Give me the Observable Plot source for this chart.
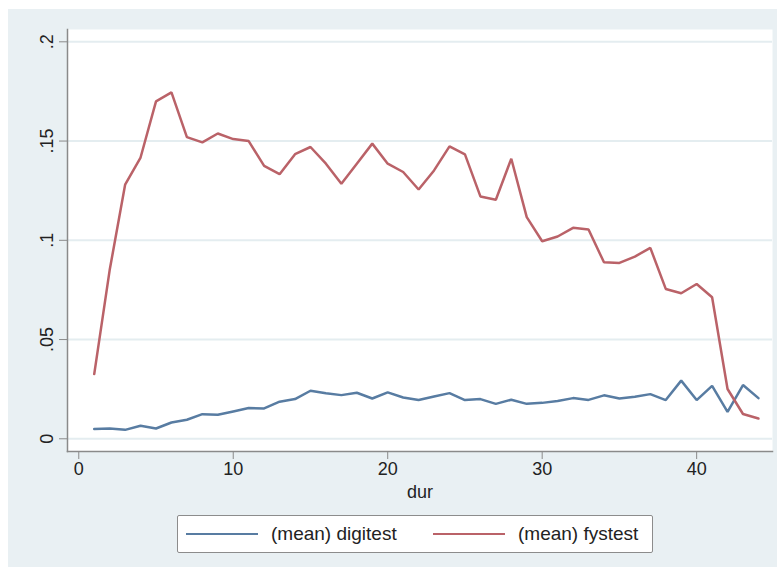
<!DOCTYPE html>
<html>
<head>
<meta charset="utf-8">
<script src="https://cdn.jsdelivr.net/npm/d3@7"></script>
<script src="https://cdn.jsdelivr.net/npm/@observablehq/plot@0.6"></script>
<style>
  html, body { margin: 0; padding: 0; background: #ffffff; }
  body { width: 777px; height: 571px; overflow: hidden; font-family: "Liberation Sans", Arial, sans-serif; }
  #wrap { position: relative; margin-left: 8px; margin-top: 9px; width: 769px; height: 558px; background: #e9f0f3; }
  #chart svg { display: block; }
  #legend { position: absolute; left: 169px; top: 506px; width: 474px; height: 36px; background: #ffffff;
            border: 1px solid #8c8c8c; border-radius: 2px; font-size: 19px; color: #222; }
  .item { position: absolute; top: 0; height: 36px; display: flex; align-items: center; }
  .swatch { width: 72px; height: 0; border-top: 2px solid; margin-right: 13px; }
</style>
</head>
<body>
<div id="wrap">
  <div id="chart"></div>
  <div id="legend"></div>
</div>
<script>
const dur = d3.range(1, 45);
const digitest = [0.0049, 0.0052, 0.0045, 0.0066, 0.0052, 0.0082, 0.0096, 0.0124, 0.0121, 0.0138,
  0.0155, 0.0153, 0.0187, 0.0200, 0.0242, 0.0229, 0.0220, 0.0232, 0.0203, 0.0234,
  0.0208, 0.0195, 0.0213, 0.0230, 0.0195, 0.0200, 0.0176, 0.0197, 0.0176, 0.0181,
  0.0190, 0.0205, 0.0196, 0.0219, 0.0203, 0.0212, 0.0225, 0.0195, 0.0293, 0.0195,
  0.0267, 0.0136, 0.0271, 0.0205];
const fystest = [0.0326, 0.0850, 0.1280, 0.1417, 0.1700, 0.1745, 0.1520, 0.1493, 0.1538, 0.1510,
  0.1500, 0.1375, 0.1333, 0.1434, 0.1470, 0.1386, 0.1285, 0.1386, 0.1487, 0.1386,
  0.1344, 0.1256, 0.1352, 0.1473, 0.1433, 0.1221, 0.1204, 0.1411, 0.1117, 0.0995,
  0.1019, 0.1063, 0.1054, 0.0889, 0.0886, 0.0918, 0.0962, 0.0755, 0.0733, 0.0780,
  0.0713, 0.0251, 0.0125, 0.0102];
const seriesNames = ["(mean) digitest", "(mean) fystest"];
const seriesColors = ["#587ca2", "#ba6268"];
const xTicks = [0, 10, 20, 30, 40];
const yTicks = [0, 0.05, 0.1, 0.15, 0.2];
const yTickLabels = ["0", ".05", ".1", ".15", ".2"];

const rows = [];
dur.forEach((d, i) => {
  rows.push({dur: d, value: digitest[i], series: seriesNames[0]});
  rows.push({dur: d, value: fystest[i], series: seriesNames[1]});
});

const chart = Plot.plot({
  width: 769,
  height: 500,
  marginLeft: 59,
  marginRight: 5,
  marginTop: 20,
  marginBottom: 58,
  style: {background: "transparent", fontFamily: "Liberation Sans, Arial, sans-serif", fontSize: "18px", color: "#222"},
  x: {domain: [-0.73, 44.91]},
  y: {domain: [-0.0064, 0.2062]},
  color: {domain: seriesNames, range: seriesColors},
  marks: [
    Plot.frame({fill: "#ffffff", stroke: "none"}),
    Plot.gridY(yTicks, {stroke: "#e4edf0", strokeOpacity: 1, strokeWidth: 2}),
    Plot.frame({anchor: "left", stroke: "#8a8a8a", strokeWidth: 1.5}),
    Plot.frame({anchor: "bottom", stroke: "#8a8a8a", strokeWidth: 1.5}),
    Plot.axisY(yTicks, {anchor: "left", tickSize: 8, tickPadding: 7, tickRotate: -90,
      tickFormat: (d, i) => yTickLabels[i], label: null, stroke: "#8a8a8a", fill: "#222", fontSize: 18}),
    Plot.axisX(xTicks, {anchor: "bottom", tickSize: 8, tickPadding: 3, label: "dur", labelAnchor: "center",
      labelArrow: "none", labelOffset: 46, stroke: "#8a8a8a", fill: "#222", fontSize: 18}),
    Plot.line(rows, {x: "dur", y: "value", z: "series", stroke: "series", strokeWidth: 2.5, strokeLinejoin: "miter"})
  ]
});
document.getElementById("chart").appendChild(chart);

const legend = document.getElementById("legend");
const offsets = [8, 255];
seriesNames.forEach((name, i) => {
  const item = document.createElement("div");
  item.className = "item";
  item.style.left = offsets[i] + "px";
  const sw = document.createElement("div");
  sw.className = "swatch";
  sw.style.borderColor = seriesColors[i];
  const label = document.createElement("span");
  label.textContent = name;
  item.appendChild(sw);
  item.appendChild(label);
  legend.appendChild(item);
});
</script>
</body>
</html>
